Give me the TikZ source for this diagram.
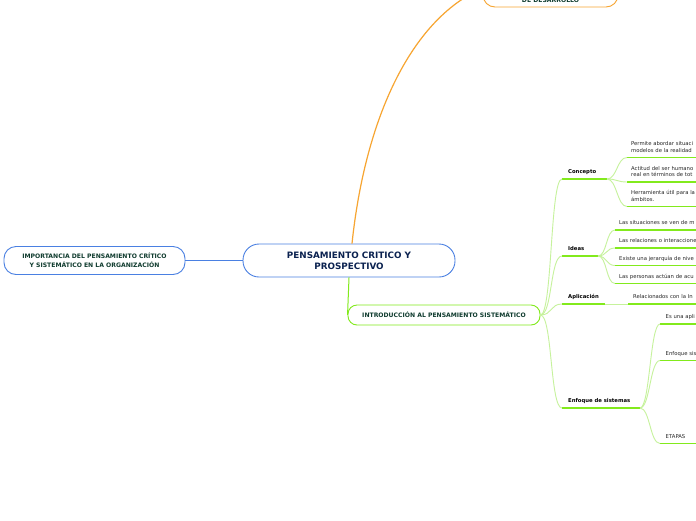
\documentclass[tikz,border=0pt]{standalone}
\usepackage{fontspec}
\setmainfont{DejaVu Sans}
\usepackage{tikz}
\usetikzlibrary{calc}
\definecolor{bleu}{HTML}{4A80E2}
\definecolor{orangec}{HTML}{F7A531}
\definecolor{vert}{HTML}{82EA1C}
\definecolor{vertclair}{HTML}{C6F29C}
\definecolor{encre}{HTML}{0B2250}
\definecolor{sapin}{HTML}{0F3B2E}
\tikzset{
  pill/.style={rectangle, draw=#1, line width=0.9pt, fill=white, align=center,
               font=\bfseries\fontsize{6.1}{9}\selectfont, text=sapin},
  sujet/.style={anchor=south west, inner xsep=6pt, inner ysep=3.8pt, text depth=1.2pt,
                font=\bfseries\fontsize{5.3}{6}\selectfont, text=black},
  feuille/.style={anchor=south west, inner xsep=4pt, inner ysep=3pt, execute at end node=\strut,
                  text width=80pt, align=left, font=\fontsize{5.3}{6.5}\selectfont, text=black!85},
  souligne/.style={draw=vert, line width=1.5pt},
  branche/.style={draw=vertclair, line width=0.9pt},
}
\begin{document}
\begin{tikzpicture}[x=1pt, y=-1pt]
  \useasboundingbox (0,0) rectangle (696,520);
  \clip (0,0) rectangle (696,520);
  \fill[white] (0,0) rectangle (696,520);

  \node[pill=bleu, minimum width=212pt, minimum height=33pt, rounded corners=16pt,
        font=\bfseries\fontsize{8.8}{11}\selectfont, text=encre] (centre) at (349,260.5)
    {PENSAMIENTO CRITICO Y\\PROSPECTIVO};
  \node[pill=bleu, minimum width=181pt, minimum height=28pt, rounded corners=12pt] (importance) at (94.5,260.5)
    {IMPORTANCIA DEL PENSAMIENTO CRÍTICO\\Y SISTEMÁTICO EN LA ORGANIZACIÓN};
  \node[pill=orangec, minimum width=135pt, minimum height=38pt, rounded corners=12pt,
        text height=28pt, text depth=0pt] (prospectivo) at (550.5,-12) {DE DESARROLLO};
  \node[pill=vert, minimum width=192pt, minimum height=20pt, rounded corners=9pt] (intro) at (444,315)
    {INTRODUCCIÓN AL PENSAMIENTO SISTEMÁTICO};

  \draw[bleu, line width=0.9pt] (centre.west) -- (importance.east);
  \draw[orangec, line width=1.2pt] ($(centre.north)+(3,0)$) .. controls (365,120) and (410,20) .. (prospectivo.west);
  \draw[vert, line width=1pt] (centre.south) -- (intro.west);

  % sous-thèmes
  \node[sujet] (concepto) at (562,179) {Concepto};
  \node[sujet] (ideas) at (562,256) {Ideas};
  \node[sujet] (aplicacion) at (562,304) {Aplicación};
  \node[sujet] (enfoque) at (562,408) {Enfoque de sistemas};
  \draw[souligne] (concepto.south west) -- ++(45,0) coordinate (concepto-fin);
  \draw[souligne] (ideas.south west) -- ++(36,0) coordinate (ideas-fin);
  \draw[souligne] (aplicacion.south west) -- ++(43,0) coordinate (aplicacion-fin);
  \draw[souligne] (enfoque.south west) -- ++(78,0) coordinate (enfoque-fin);
  \foreach \n in {concepto,ideas,aplicacion,enfoque}
    \draw[branche] (intro.east) .. controls +(12,0) and +(-12,0) .. (\n.south west);

  % feuilles
  \node[feuille] (c1) at (627,157.5) {Permite abordar situaci\\modelos de la realidad};
  \node[feuille] (c2) at (627,182) {Actitud del ser humano\\real en términos de tot};
  \node[feuille] (c3) at (627,206.5) {Herramienta útil para la\\ámbitos.};
  \node[feuille] (i1) at (615,230) {Las situaciones se ven de m};
  \node[feuille] (i2) at (615,248) {Las relaciones o interaccione};
  \node[feuille] (i3) at (615,265.5) {Existe una jerarquía de nive};
  \node[feuille] (i4) at (615,283.5) {Las personas actúan de acu};
  \node[feuille, inner xsep=5pt] (a1) at (628,304) {Relacionados con la In};
  \node[feuille, inner xsep=5.5pt] (e1) at (660,324) {Es una apli};
  \node[feuille, inner xsep=5.5pt] (e2) at (660,360.5) {Enfoque sis};
  \node[feuille, inner xsep=5.5pt] (e3) at (660,443.5) {ETAPAS};
  \foreach \n in {c1,c2,c3,i1,i2,i3,i4,a1,e1,e2,e3}
    \draw[souligne] (\n.south west) -- (\n.south east);
  \foreach \n in {c1,c2,c3}
    \draw[branche] (concepto-fin) .. controls +(10,0) and +(-10,0) .. (\n.south west);
  \foreach \n in {i1,i2,i3,i4}
    \draw[branche] (ideas-fin) .. controls +(9,0) and +(-9,0) .. (\n.south west);
  \draw[branche] (aplicacion-fin) -- (a1.south west);
  \foreach \n in {e1,e2,e3}
    \draw[branche] (enfoque-fin) .. controls +(10,0) and +(-10,0) .. (\n.south west);
\end{tikzpicture}
\end{document}
